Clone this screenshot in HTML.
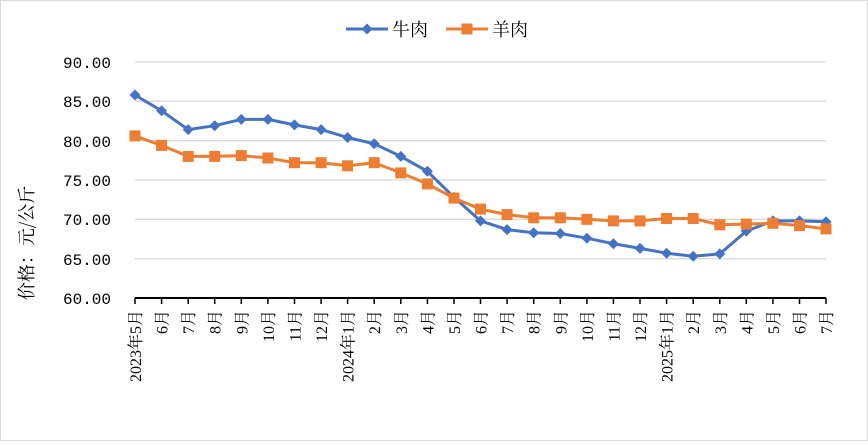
<!DOCTYPE html>
<html><head><meta charset="utf-8"><style>
html,body{margin:0;padding:0;background:#fff}
svg text{font-family:"Liberation Serif","Noto Serif CJK SC",serif;fill:#000}
svg .m text{font-family:"Liberation Mono",monospace}
</style></head><body>
<svg width="868" height="441" viewBox="0 0 868 441" xmlns="http://www.w3.org/2000/svg">
<rect x="0.5" y="0.5" width="867" height="440" fill="#fff" stroke="#d9d9d9"/>
<defs>
<path id="d" d="M0,-5.5 L5.5,0 L0,5.5 L-5.5,0Z" fill="#4472c4"/>
<rect id="s" x="-5.5" y="-5.5" width="11" height="11" fill="#ed7d31"/>
</defs>
<g stroke="#d9d9d9" stroke-width="1.3">
<line x1="135" x2="826" y1="62" y2="62"/><line x1="135" x2="826" y1="101.3" y2="101.3"/>
<line x1="135" x2="826" y1="140.7" y2="140.7"/><line x1="135" x2="826" y1="180" y2="180"/>
<line x1="135" x2="826" y1="219.3" y2="219.3"/><line x1="135" x2="826" y1="258.7" y2="258.7"/>
</g>
<g class="m" font-size="16" text-anchor="end">
<text x="111" y="68">90.00</text><text x="111" y="107">85.00</text><text x="111" y="147">80.00</text>
<text x="111" y="186">75.00</text><text x="111" y="225">70.00</text><text x="111" y="265">65.00</text><text x="111" y="304">60.00</text>
</g>
<text transform="translate(33,243) rotate(-90)" font-size="18" text-anchor="middle" style="font-family:'Noto Serif CJK SC',serif">价格：元/公斤</text>
<line x1="135" x2="826" y1="298" y2="298" stroke="#000" stroke-width="2"/>
<g stroke="#000" stroke-width="1.5">
<path d="M135,298v6M161.6,298v6M188.2,298v6M214.7,298v6M241.3,298v6M267.9,298v6M294.5,298v6M321.1,298v6M347.6,298v6M374.2,298v6M400.8,298v6M427.4,298v6M454,298v6M480.5,298v6M507.1,298v6M533.7,298v6M560.3,298v6M586.9,298v6M613.4,298v6M640,298v6M666.6,298v6M693.2,298v6M719.8,298v6M746.3,298v6M772.9,298v6M799.5,298v6M826,298v6"/>
</g>
<g font-size="16" text-anchor="end">
<text transform="translate(141,310) rotate(-90)">2023年5月</text>
<text transform="translate(167.6,310) rotate(-90)">6月</text>
<text transform="translate(194.2,310) rotate(-90)">7月</text>
<text transform="translate(220.7,310) rotate(-90)">8月</text>
<text transform="translate(247.3,310) rotate(-90)">9月</text>
<text transform="translate(273.9,310) rotate(-90)">10月</text>
<text transform="translate(300.5,310) rotate(-90)">11月</text>
<text transform="translate(327.1,310) rotate(-90)">12月</text>
<text transform="translate(353.6,310) rotate(-90)">2024年1月</text>
<text transform="translate(380.2,310) rotate(-90)">2月</text>
<text transform="translate(406.8,310) rotate(-90)">3月</text>
<text transform="translate(433.4,310) rotate(-90)">4月</text>
<text transform="translate(460,310) rotate(-90)">5月</text>
<text transform="translate(486.5,310) rotate(-90)">6月</text>
<text transform="translate(513.1,310) rotate(-90)">7月</text>
<text transform="translate(539.7,310) rotate(-90)">8月</text>
<text transform="translate(566.3,310) rotate(-90)">9月</text>
<text transform="translate(592.9,310) rotate(-90)">10月</text>
<text transform="translate(619.4,310) rotate(-90)">11月</text>
<text transform="translate(646,310) rotate(-90)">12月</text>
<text transform="translate(672.6,310) rotate(-90)">2025年1月</text>
<text transform="translate(699.2,310) rotate(-90)">2月</text>
<text transform="translate(725.8,310) rotate(-90)">3月</text>
<text transform="translate(752.3,310) rotate(-90)">4月</text>
<text transform="translate(778.9,310) rotate(-90)">5月</text>
<text transform="translate(805.5,310) rotate(-90)">6月</text>
<text transform="translate(832,310) rotate(-90)">7月</text>
</g>
<polyline fill="none" stroke="#4472c4" stroke-width="3" stroke-linejoin="round" points="135,95 161.6,110.8 188.2,129.6 214.7,125.7 241.3,119.4 267.9,119.4 294.5,124.9 321.1,129.6 347.6,137.5 374.2,143.8 400.8,156.4 427.4,171.3 454,197.3 480.5,220.9 507.1,229.6 533.7,232.7 560.3,233.5 586.9,238.2 613.4,243.7 640,248.4 666.6,253.2 693.2,256.3 719.8,253.9 746.3,231.1 772.9,220.9 799.5,220.9 826,221.7"/>
<g>
<use href="#d" x="135" y="95"/><use href="#d" x="161.6" y="110.8"/><use href="#d" x="188.2" y="129.6"/><use href="#d" x="214.7" y="125.7"/><use href="#d" x="241.3" y="119.4"/><use href="#d" x="267.9" y="119.4"/><use href="#d" x="294.5" y="124.9"/><use href="#d" x="321.1" y="129.6"/><use href="#d" x="347.6" y="137.5"/><use href="#d" x="374.2" y="143.8"/><use href="#d" x="400.8" y="156.4"/><use href="#d" x="427.4" y="171.3"/><use href="#d" x="454" y="197.3"/><use href="#d" x="480.5" y="220.9"/><use href="#d" x="507.1" y="229.6"/><use href="#d" x="533.7" y="232.7"/><use href="#d" x="560.3" y="233.5"/><use href="#d" x="586.9" y="238.2"/><use href="#d" x="613.4" y="243.7"/><use href="#d" x="640" y="248.4"/><use href="#d" x="666.6" y="253.2"/><use href="#d" x="693.2" y="256.3"/><use href="#d" x="719.8" y="253.9"/><use href="#d" x="746.3" y="231.1"/><use href="#d" x="772.9" y="220.9"/><use href="#d" x="799.5" y="220.9"/><use href="#d" x="826" y="221.7"/>
</g>
<polyline fill="none" stroke="#ed7d31" stroke-width="3" stroke-linejoin="round" points="135,135.9 161.6,145.4 188.2,156.4 214.7,156.4 241.3,155.6 267.9,158 294.5,162.7 321.1,162.7 347.6,165.8 374.2,162.7 400.8,172.9 427.4,183.9 454,198.1 480.5,209.1 507.1,214.6 533.7,217.8 560.3,217.8 586.9,219.3 613.4,220.9 640,220.9 666.6,218.5 693.2,218.5 719.8,224.8 746.3,224.1 772.9,223.3 799.5,225.6 826,228.8"/>
<g>
<use href="#s" x="135" y="135.9"/><use href="#s" x="161.6" y="145.4"/><use href="#s" x="188.2" y="156.4"/><use href="#s" x="214.7" y="156.4"/><use href="#s" x="241.3" y="155.6"/><use href="#s" x="267.9" y="158"/><use href="#s" x="294.5" y="162.7"/><use href="#s" x="321.1" y="162.7"/><use href="#s" x="347.6" y="165.8"/><use href="#s" x="374.2" y="162.7"/><use href="#s" x="400.8" y="172.9"/><use href="#s" x="427.4" y="183.9"/><use href="#s" x="454" y="198.1"/><use href="#s" x="480.5" y="209.1"/><use href="#s" x="507.1" y="214.6"/><use href="#s" x="533.7" y="217.8"/><use href="#s" x="560.3" y="217.8"/><use href="#s" x="586.9" y="219.3"/><use href="#s" x="613.4" y="220.9"/><use href="#s" x="640" y="220.9"/><use href="#s" x="666.6" y="218.5"/><use href="#s" x="693.2" y="218.5"/><use href="#s" x="719.8" y="224.8"/><use href="#s" x="746.3" y="224.1"/><use href="#s" x="772.9" y="223.3"/><use href="#s" x="799.5" y="225.6"/><use href="#s" x="826" y="228.8"/>
</g>
<line x1="346" x2="388" y1="29" y2="29" stroke="#4472c4" stroke-width="3"/>
<use href="#d" x="367" y="29"/>
<text x="392" y="36" font-size="18" style="font-family:'Noto Serif CJK SC',serif">牛肉</text>
<line x1="446" x2="488" y1="29" y2="29" stroke="#ed7d31" stroke-width="3"/>
<use href="#s" x="467" y="29"/>
<text x="492" y="36" font-size="18" style="font-family:'Noto Serif CJK SC',serif">羊肉</text>
</svg>
</body></html>
